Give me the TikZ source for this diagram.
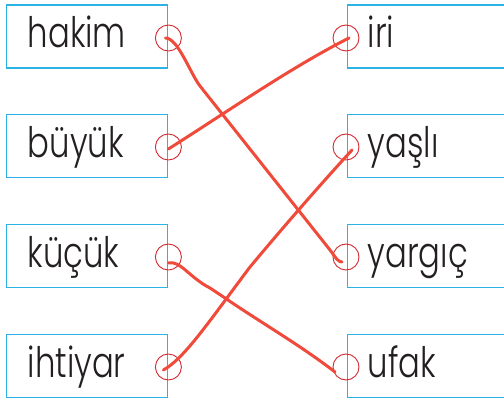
\documentclass[tikz,border=0pt]{standalone}
\usepackage{fontspec}
\setmainfont{Poppins}[UprightFont=* Light, FakeStretch=0.77]
\usepackage{xcolor}
\usepackage{tikz}

\definecolor{boxblue}{HTML}{2BB3E6}
\definecolor{ringred}{HTML}{D22A30}
\definecolor{penred}{HTML}{F04A3A}
\definecolor{inkgray}{HTML}{231F20}

\tikzset{
  wordbox/.style={draw=boxblue, line width=1.4pt, fill=white, anchor=west,
    minimum height=63pt, text height=35pt, text depth=12pt,
    align=left, inner ysep=0pt, text=inkgray,
    font=\fontsize{42}{42}\selectfont},
  leftbox/.style={wordbox, inner xsep=21pt, text width=119pt},
  rightbox/.style={wordbox, inner xsep=20pt, text width=140pt},
  ring/.style={circle, draw=ringred, line width=0.9pt, minimum size=26pt, inner sep=0pt},
  pen/.style={draw=penred, line width=3pt, line cap=round, line join=round}
}

\begin{document}
\begin{tikzpicture}[x=1pt, y=-1pt]
        \useasboundingbox (0,0) rectangle (504,401);
        \node [leftbox] (hakim) at (6,36.5) {hakim};
        \node [leftbox] (buyuk) at (6,146) {büyük};
        \node [leftbox] (kucuk) at (6,256) {küçük};
        \node [leftbox] (ihtiyar) at (6,366) {ihtiyar};
        \node [rightbox] (iri) at (347,36.5) {iri};
        \node [rightbox] (yasli) at (347,146) {yaşlı};
        \node [rightbox] (yargic) at (347,256) {yargıç};
        \node [rightbox] (ufak) at (347,366) {ufak};
        \node [ring] (lh) at ([yshift=-1.5pt]hakim.east) {};
        \node [ring] (lb) at ([yshift=-1pt]buyuk.east) {};
        \node [ring] (lk) at ([yshift=-1pt]kucuk.east) {};
        \node [ring] (li) at ([yshift=-1pt]ihtiyar.east) {};
        \node [ring] (ri) at ([xshift=-1pt,yshift=-1.5pt]iri.west) {};
        \node [ring] (ry) at ([xshift=-1pt,yshift=-1pt]yasli.west) {};
        \node [ring] (rg) at ([xshift=-1pt,yshift=-1pt]yargic.west) {};
        \node [ring] (ru) at ([xshift=-1pt,yshift=-1pt]ufak.west) {};
        \draw [pen] ([xshift=-3pt]lh.center) .. controls (178,38) and (190,73) .. (200,86)
              -- (330,250) .. controls (336,258) and (338,262) .. ([xshift=-4pt,yshift=-5pt]rg.center);
        \draw [pen] ([yshift=-2pt]lb.center) .. controls (230,110) and (290,68) .. ([xshift=3pt]ri.center);
        \draw [pen] ([yshift=-6pt]lk.center) .. controls (180,260) and (190,278) .. (210,288)
              -- (225,298) .. controls (260,322) and (300,345) .. ([xshift=-11pt,yshift=-5pt]ru.center);
        \draw [pen] ([xshift=-5pt,yshift=-3pt]li.center) .. controls (185,358) and (210,320) .. (250,267)
              .. controls (285,225) and (320,185) .. ([xshift=6pt,yshift=-3pt]ry.center);
        \end{tikzpicture}
\end{document}
